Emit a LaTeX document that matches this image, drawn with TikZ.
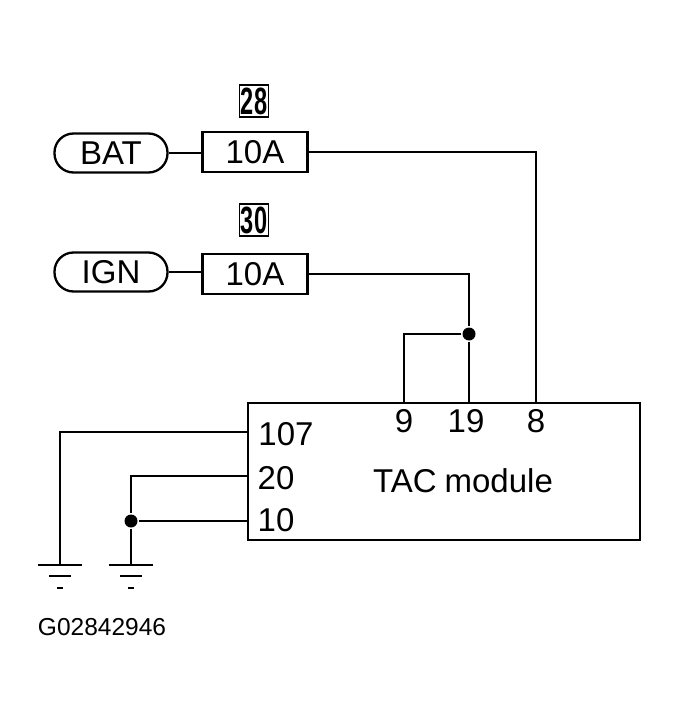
\documentclass[tikz,border=0pt]{standalone}
\usepackage{fontspec}
\usepackage{graphicx}
\setmainfont{Liberation Sans}
\begin{document}
\begin{tikzpicture}[x=1pt,y=-1pt,line width=2.3pt,
  txt/.style={font=\fontsize{33}{33}\selectfont,inner sep=0pt},
  oval/.style={draw,rounded corners=19pt,minimum width=113pt,minimum height=39pt,txt},
  fuse/.style={draw,minimum width=105pt,minimum height=40pt,txt},
  num/.style={draw,line width=1.6pt,inner sep=0pt,minimum width=29pt,minimum height=32pt},
  numt/.style={font=\bfseries\fontsize{38}{38}\selectfont,inner sep=0pt},
  dot/.style={circle,fill,inner sep=0pt,minimum size=13pt}]
\useasboundingbox (0,0) rectangle (679,708);
\node[oval] (bat) at (111,153) {BAT};
\node[fuse] (f28) at (255,152) {10A};
\node[num] (n28) at (254,101) {};
\node[numt] (t28) at (254,101) {\scalebox{0.62}[1]{28}};
\node[oval] (ign) at (111,272) {IGN};
\node[fuse] (f30) at (255,274) {10A};
\node[num] (n30) at (254,220) {};
\node[numt] (t30) at (254,220) {\scalebox{0.62}[1]{30}};
\node[draw,minimum width=392pt,minimum height=137pt,inner sep=0pt] (mod) at (444,471.5) {};
\node[txt] (p9) at (404,421) {9};
\node[txt] (p19) at (466,421) {19};
\node[txt] (p8) at (536,421) {8};
\node[txt] (p107) at (286,434) {107};
\node[txt] (p20) at (276,478) {20};
\node[txt] (p10) at (276,520) {10};
\node[txt] (tac) at (463,481) {TAC\hspace{8pt}module};
\node[font=\fontsize{24.5}{24.5}\selectfont,inner sep=0pt] (code) at (102,627) {G02842946};
\node[dot] (d1) at (469,334) {};
\node[dot] (d2) at (131,521) {};
\coordinate (g1) at (60,565);
\coordinate (g2) at (131,565);
\draw (bat.east) -- (bat.east -| f28.west);
\draw (ign.east) -- (ign.east -| f30.west);
\draw (f28.east) -- (536,152) -- (536,403);
\draw (f30.east) -- (469,274) -- (d1) -- (469,403);
\draw (d1) -- (404,334) -- (404,403);
\draw (248,432) -- (60,432) -- (g1);
\draw (248,476) -- (131,476) -- (d2) -- (g2);
\draw (248,521) -- (d2);
\foreach \g in {g1,g2}{
  \draw ([xshift=-22pt]\g) -- ([xshift=22pt]\g);
  \draw ([xshift=-11pt,yshift=-11pt]\g) -- ([xshift=11pt,yshift=-11pt]\g);
  \draw ([xshift=-3pt,yshift=-23pt]\g) -- ([xshift=3pt,yshift=-23pt]\g);
}
\end{tikzpicture}
\end{document}
